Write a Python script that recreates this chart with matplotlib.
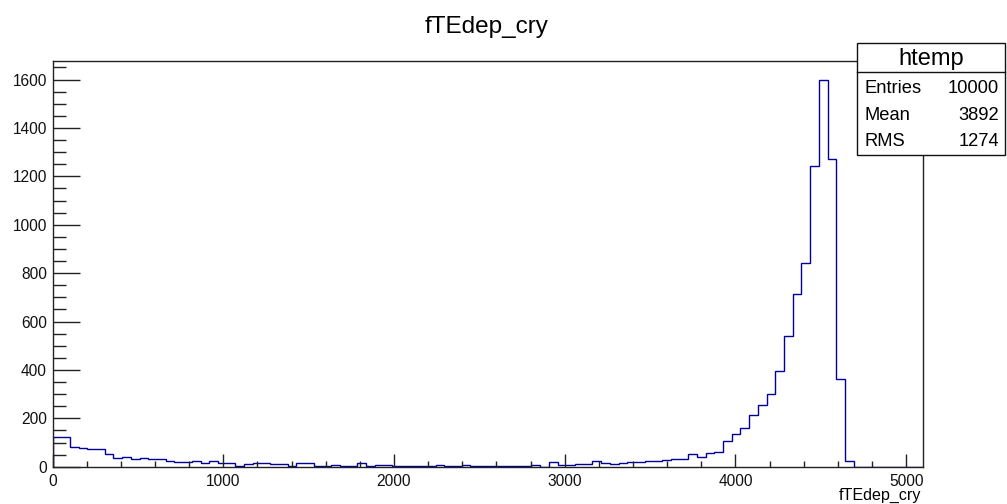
import numpy as np
import matplotlib
matplotlib.use("Agg")
import matplotlib.pyplot as plt
from matplotlib.patches import Rectangle
from matplotlib.ticker import MultipleLocator

# Histogram definition (100 bins from 0 to 5100)
x_min, x_max, n_bins = 0.0, 5100.0, 100
counts = [
    121, 121, 80, 79, 75, 72, 52, 35, 40, 32,
    36, 32, 32, 24, 19, 19, 22, 16, 23, 16,
    16, 4, 13, 14, 14, 10, 10, 4, 14, 14,
    3, 3, 8, 3, 3, 14, 3, 9, 9, 3,
    3, 3, 3, 3, 9, 3, 3, 9, 3, 3,
    3, 3, 3, 3, 3, 9, 0, 18, 9, 9,
    12, 10, 23, 15, 11, 15, 20, 21, 25, 25,
    28, 32, 32, 51, 41, 55, 62, 108, 135, 160,
    214, 256, 301, 397, 542, 713, 844, 1241, 1597, 1272,
    361, 22, 0, 0, 0, 0, 0, 0, 0, 0,
]
hist_name = "htemp"
var_name = "fTEdep_cry"
stat_names = ["Entries", "Mean", "RMS"]
stat_values = ["10000", "3892", "1274"]

plt.rcParams["font.family"] = ["Liberation Sans", "DejaVu Sans"]

W, H = 1007, 504
fig = plt.figure(figsize=(W / 100, H / 100), dpi=100)
fig.patch.set_facecolor("white")

def fx(px):
    return px / W

def fy(py):
    return 1 - py / H

ax_l, ax_r, ax_t, ax_b = 52.5, 923.3, 61.0, 466.7
ax = fig.add_axes([fx(ax_l), fy(ax_b), fx(ax_r - ax_l), (ax_b - ax_t) / H])

edges = np.linspace(x_min, x_max, n_bins + 1)
ax.stairs(counts, edges, color="#000099", linewidth=1.0)

ymax = 1.05 * max(counts)
ax.set_xlim(x_min, x_max)
ax.set_ylim(0, ymax)

for s in ax.spines.values():
    s.set_color("#222222")
    s.set_linewidth(1.0)

ax.xaxis.set_major_locator(MultipleLocator(1000))
ax.xaxis.set_minor_locator(MultipleLocator(200))
ax.yaxis.set_major_locator(MultipleLocator(200))
ax.yaxis.set_minor_locator(MultipleLocator(50))
ax.tick_params(axis="both", which="both", direction="in", top=False, right=False,
               color="#222222", labelsize=11.2, labelcolor="#111111")
ax.tick_params(axis="y", which="major", length=26.7 * 0.72, width=1.0, pad=4)
ax.tick_params(axis="y", which="minor", length=13.3 * 0.72, width=1.0)
ax.tick_params(axis="x", which="major", length=12.7 * 0.72, width=1.0, pad=5)
ax.tick_params(axis="x", which="minor", length=6.3 * 0.72, width=1.0)

# Title and axis label
fig.text(fx(486.5), fy(33), var_name, ha="center", va="baseline", fontsize=17.5)
fig.text(fx(921.5), fy(500), var_name, ha="right", va="baseline", fontsize=11.6)

# Statistics box
bx_l, bx_r, bx_t, bx_b = 857.3, 1005.0, 43.3, 155.0
div_y = 71.7
fig.patches.append(Rectangle((fx(bx_l), fy(bx_b)), fx(bx_r - bx_l), (bx_b - bx_t) / H,
                             transform=fig.transFigure, facecolor="white",
                             edgecolor="#111111", linewidth=1.0, zorder=5))
fig.add_artist(plt.Line2D([fx(bx_l), fx(bx_r)], [fy(div_y), fy(div_y)],
                          transform=fig.transFigure, color="#111111", linewidth=1.0, zorder=6))
fig.text(fx((bx_l + bx_r) / 2), fy(65), hist_name, ha="center", va="baseline",
         fontsize=17, zorder=7)
row_base = [93, 120, 146]
for name, val, yb in zip(stat_names, stat_values, row_base):
    fig.text(fx(865), fy(yb), name, ha="left", va="baseline", fontsize=13.2, zorder=7)
    fig.text(fx(999), fy(yb), val, ha="right", va="baseline", fontsize=13.2, zorder=7)

fig.savefig("out.png", dpi=100)
